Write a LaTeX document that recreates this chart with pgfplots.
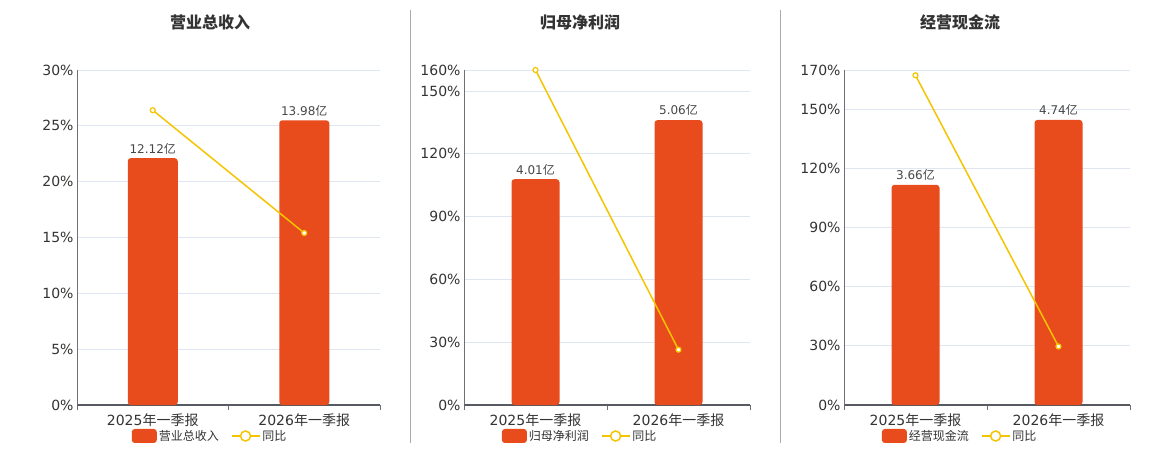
\documentclass[border=0pt]{standalone}
\usepackage{pgfplots}
\pgfplotsset{compat=1.18}
\usepackage{fontspec}
\setmainfont{DejaVu Sans}
\newfontfamily\cjk{Noto Sans CJK SC}
\definecolor{barc}{HTML}{E84C1D}
\definecolor{linec}{HTML}{F4C400}
\definecolor{gridc}{HTML}{E0E6F1}
\definecolor{axisc}{HTML}{6E7079}
\definecolor{textc}{HTML}{333333}
\definecolor{sepc}{HTML}{AAAAAA}
\pgfplotsset{
  panel/.style={
    scale only axis, height=335bp, anchor=south west,
    xmin=-0.5, xmax=1.5, ymin=0,
    xtick={0,1},
    xticklabels={2025{\cjk 年一季报},2026{\cjk 年一季报}},
    minor xtick={-0.5,0.5,1.5},
    major tick length=0pt, minor tick length=5bp, tick align=outside,
    every minor tick/.style={draw=axisc, line width=1bp},
    ymajorgrids, grid style={draw=gridc, line width=0.8bp},
    axis x line*=bottom, axis y line*=left,
    x axis line style={draw=axisc!80!black, line width=1.5bp, -},
    y axis line style={draw=axisc, line width=1bp, -},
    tick label style={font=\fontsize{14bp}{16bp}\selectfont, text=textc},
    xticklabel style={yshift=-5bp},
    legend style={draw=none, fill=none, font=\fontsize{12bp}{14bp}\selectfont, text=textc,
      legend columns=2, /tikz/every even column/.style={column sep=10bp},
      anchor=center},
    clip=false,
  },
  bars/.style={
    ybar, bar width=#1, fill=barc, draw=none, rounded corners=3bp, bar shift=0pt,
    visualization depends on={rawy \as \rawy},
    nodes near coords={\pgfmathprintnumber[fixed,precision=2,fixed zerofill,assume math mode=true]{\rawy}{\cjk 亿}},
    every node near coord/.style={font=\fontsize{12bp}{14bp}\selectfont, text=textc!90, anchor=south, inner sep=4bp},
    legend image code/.code={\fill[barc, rounded corners=3bp] (0bp,-7bp) rectangle (25bp,7bp);},
  },
  yoy/.style={
    draw=linec, line width=1.5bp, mark=*, mark size=2.5bp,
    mark options={fill=white, draw=linec, line width=1.2bp},
    legend image code/.code={\draw[linec,line width=1.5bp] (0bp,0bp) -- (28bp,0bp);
      \draw[linec, line width=1.5bp, fill=white] (14bp,0bp) circle (5bp);},
  },
}
\begin{document}
\begin{tikzpicture}
\path[use as bounding box] (0,0) rectangle (1160bp,-450bp);
\draw[sepc, line width=1bp] (410.5bp,-10bp) -- (410.5bp,-443bp);
\draw[sepc, line width=1bp] (780.5bp,-10bp) -- (780.5bp,-443bp);
\node[font=\cjk\bfseries\fontsize{16bp}{18bp}\selectfont, text=textc] at (210bp,-22bp) {营业总收入};
\node[font=\cjk\bfseries\fontsize{16bp}{18bp}\selectfont, text=textc] at (580bp,-22bp) {归母净利润};
\node[font=\cjk\bfseries\fontsize{16bp}{18bp}\selectfont, text=textc] at (960bp,-22bp) {经营现金流};

% Panel 1
\begin{axis}[panel, at={(77bp,-405bp)}, width=303bp, ymax=30,
  ytick={0,5,10,15,20,25,30},
  yticklabels={0\%,5\%,10\%,15\%,20\%,25\%,30\%},
  legend style={at={(0.439,-0.0925)}}]
\addplot[bars=50bp, y filter/.expression={y*30/16.45}] coordinates {(0,12.12) (1,13.98)};
\addlegendentry{\cjk 营业总收入}
\addplot[yoy] coordinates {(0,26.4) (1,15.4)};
\addlegendentry{\cjk 同比}
\end{axis}

% Panel 2
\begin{axis}[panel, at={(464bp,-405bp)}, width=286bp, ymax=160,
  ytick={0,30,60,90,120,150,160},
  yticklabels={0\%,30\%,60\%,90\%,120\%,150\%,160\%},
  legend style={at={(0.406,-0.0925)}}]
\addplot[bars=48bp, y filter/.expression={y*160/5.95}] coordinates {(0,4.01) (1,5.06)};
\addlegendentry{\cjk 归母净利润}
\addplot[yoy] coordinates {(0,160) (1,26.4)};
\addlegendentry{\cjk 同比}
\end{axis}

% Panel 3
\begin{axis}[panel, at={(844bp,-405bp)}, width=286bp, ymax=170,
  ytick={0,30,60,90,120,150,170},
  yticklabels={0\%,30\%,60\%,90\%,120\%,150\%,170\%},
  legend style={at={(0.406,-0.0925)}}]
\addplot[bars=48bp, y filter/.expression={y*170/5.57}] coordinates {(0,3.66) (1,4.74)};
\addlegendentry{\cjk 经营现金流}
\addplot[yoy] coordinates {(0,167.3) (1,29.7)};
\addlegendentry{\cjk 同比}
\end{axis}
\end{tikzpicture}
\end{document}
